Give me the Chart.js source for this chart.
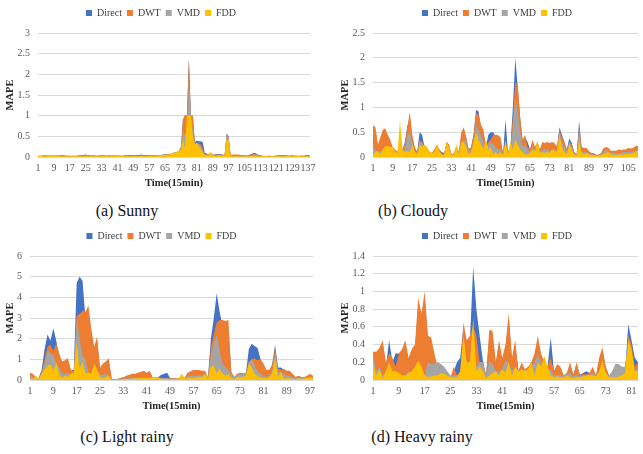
<!DOCTYPE html>
<html>
<head>
<meta charset="utf-8">
<script src="https://cdn.jsdelivr.net/npm/chart.js@4.4.0/dist/chart.umd.min.js"></script>
<style>
  html, body { margin: 0; padding: 0; background: #fff; }
  body { width: 643px; height: 454px; position: relative; overflow: hidden; font-family: "Liberation Serif", "Times New Roman", serif; }
  .panel { position: absolute; }
  .cap { position: absolute; font-size: 16px; line-height: 18px; color: #111; transform: translateX(-50%); white-space: nowrap; }
</style>
</head>
<body>
<div class="panel" style="left:0;top:0"><canvas id="chartA" width="320" height="194"></canvas></div>
<div class="panel" style="left:320px;top:0"><canvas id="chartB" width="323" height="194"></canvas></div>
<div class="panel" style="left:0;top:223px"><canvas id="chartC" width="320" height="194"></canvas></div>
<div class="panel" style="left:320px;top:223px"><canvas id="chartD" width="323" height="194"></canvas></div>
<div class="cap" style="left:127px;top:202px">(a) Sunny</div>
<div class="cap" style="left:413px;top:202px">(b) Cloudy</div>
<div class="cap" style="left:127px;top:428px">(c) Light rainy</div>
<div class="cap" style="left:422px;top:428px">(d) Heavy rainy</div>
<script>
// series names and colours (legend order)
const seriesNames = ['Direct', 'DWT', 'VMD', 'FDD'];
const seriesColors = ['#4472C4', '#ED7D31', '#A5A5A5', '#FFC000'];

// (a) Sunny, 138 points
const countA = 138;
const directA = [0.03,0.02,0.03,0.03,0.04,0.03,0.03,0.04,0.03,0.03,
  0.03,0.04,0.05,0.04,0.03,0.03,0.03,0.02,0.03,0.03,
  0.03,0.04,0.04,0.05,0.06,0.05,0.04,0.03,0.04,0.03,
  0.03,0.03,0.04,0.04,0.03,0.03,0.04,0.03,0.03,0.04,
  0.04,0.03,0.03,0.03,0.04,0.04,0.05,0.05,0.04,0.04,
  0.05,0.05,0.06,0.05,0.05,0.04,0.05,0.04,0.04,0.05,
  0.05,0.05,0.05,0.06,0.07,0.06,0.07,0.08,0.1,0.11,
  0.12,0.15,0.25,0.9,1.0,1.0,2.38,1.0,1.0,0.35,
  0.4,0.38,0.38,0.35,0.1,0.08,0.07,0.1,0.06,0.06,
  0.07,0.07,0.07,0.06,0.05,0.57,0.5,0.05,0.04,0.04,
  0.04,0.05,0.04,0.04,0.04,0.03,0.05,0.06,0.08,0.1,
  0.08,0.05,0.04,0.03,0.02,0.02,0.03,0.03,0.02,0.03,
  0.03,0.04,0.04,0.05,0.04,0.04,0.03,0.03,0.04,0.03,
  0.03,0.02,0.03,0.03,0.03,0.04,0.05,0.03];
const dwtA = [0.03,0.03,0.03,0.04,0.03,0.03,0.04,0.03,0.03,0.04,
  0.03,0.03,0.04,0.03,0.03,0.02,0.03,0.03,0.03,0.02,
  0.03,0.03,0.03,0.04,0.04,0.04,0.03,0.03,0.03,0.03,
  0.03,0.04,0.05,0.04,0.04,0.03,0.03,0.03,0.04,0.04,
  0.04,0.03,0.03,0.03,0.03,0.03,0.03,0.04,0.03,0.03,
  0.03,0.04,0.04,0.04,0.04,0.04,0.05,0.04,0.04,0.04,
  0.05,0.04,0.05,0.05,0.06,0.06,0.06,0.07,0.09,0.1,
  0.11,0.14,0.22,0.9,1.02,1.0,2.35,1.0,1.0,0.33,
  0.35,0.33,0.3,0.2,0.08,0.06,0.06,0.08,0.05,0.05,
  0.06,0.06,0.06,0.05,0.05,0.55,0.48,0.06,0.06,0.06,
  0.06,0.06,0.05,0.04,0.04,0.03,0.04,0.04,0.06,0.07,
  0.06,0.04,0.03,0.03,0.02,0.02,0.02,0.03,0.02,0.03,
  0.03,0.03,0.03,0.04,0.04,0.03,0.03,0.03,0.03,0.03,
  0.03,0.02,0.03,0.03,0.03,0.03,0.04,0.03];
const vmdA = [0.02,0.02,0.03,0.03,0.03,0.02,0.03,0.03,0.02,0.03,
  0.03,0.03,0.03,0.03,0.02,0.02,0.02,0.02,0.03,0.02,
  0.02,0.03,0.03,0.03,0.03,0.03,0.02,0.02,0.03,0.02,
  0.02,0.03,0.03,0.03,0.03,0.02,0.02,0.02,0.03,0.03,
  0.03,0.02,0.02,0.02,0.03,0.03,0.03,0.03,0.03,0.02,
  0.03,0.03,0.03,0.03,0.03,0.03,0.03,0.03,0.03,0.03,
  0.04,0.04,0.04,0.04,0.05,0.05,0.05,0.06,0.08,0.08,
  0.09,0.12,0.2,0.65,0.5,0.7,1.8,1.0,0.6,0.3,
  0.32,0.3,0.25,0.15,0.06,0.05,0.05,0.08,0.04,0.04,
  0.04,0.05,0.05,0.04,0.04,0.55,0.45,0.04,0.03,0.03,
  0.03,0.03,0.03,0.03,0.03,0.02,0.03,0.03,0.04,0.05,
  0.04,0.03,0.02,0.02,0.02,0.02,0.02,0.02,0.02,0.02,
  0.02,0.03,0.03,0.03,0.03,0.03,0.02,0.02,0.02,0.02,
  0.02,0.02,0.02,0.02,0.03,0.03,0.03,0.02];
const fddA = [0.02,0.03,0.03,0.02,0.03,0.03,0.04,0.04,0.04,0.03,
  0.03,0.03,0.02,0.02,0.02,0.02,0.02,0.02,0.02,0.02,
  0.02,0.02,0.02,0.02,0.03,0.03,0.02,0.02,0.02,0.02,
  0.02,0.02,0.03,0.03,0.03,0.02,0.02,0.02,0.03,0.04,
  0.05,0.03,0.02,0.02,0.02,0.02,0.02,0.02,0.02,0.02,
  0.02,0.02,0.02,0.02,0.02,0.02,0.03,0.03,0.03,0.03,
  0.03,0.04,0.04,0.05,0.06,0.05,0.06,0.08,0.1,0.11,
  0.12,0.15,0.18,0.45,0.2,1.0,1.0,1.0,0.5,0.3,
  0.35,0.25,0.2,0.1,0.05,0.05,0.06,0.12,0.04,0.03,
  0.03,0.04,0.04,0.03,0.04,0.45,0.4,0.03,0.02,0.02,
  0.02,0.02,0.02,0.02,0.02,0.02,0.02,0.02,0.03,0.03,
  0.03,0.02,0.02,0.02,0.02,0.02,0.02,0.02,0.02,0.02,
  0.02,0.02,0.02,0.02,0.02,0.02,0.02,0.02,0.02,0.03,
  0.05,0.03,0.02,0.02,0.02,0.02,0.02,0.02];

// (b) Cloudy, 109 points visible
const countB = 109;
const directB = [0.6,0.55,0.2,0.35,0.5,0.5,0.4,0.3,0.18,0.12,
  0.1,0.28,0.14,0.3,0.62,0.8,0.4,0.18,0.1,0.5,
  0.45,0.2,0.18,0.1,0.08,0.14,0.23,0.15,0.1,0.08,
  0.28,0.22,0.05,0.07,0.2,0.1,0.45,0.55,0.38,0.15,
  0.2,0.45,0.95,0.92,0.6,0.5,0.2,0.45,0.5,0.5,
  0.4,0.38,0.35,0.05,0.75,0.1,0.2,1.0,2.0,1.4,
  0.75,0.3,0.4,0.3,0.15,0.3,0.18,0.28,0.14,0.25,
  0.25,0.25,0.25,0.25,0.25,0.2,0.6,0.45,0.3,0.15,
  0.38,0.28,0.1,0.05,0.73,0.2,0.15,0.15,0.1,0.08,
  0.07,0.04,0.05,0.07,0.15,0.18,0.15,0.1,0.1,0.1,
  0.12,0.12,0.12,0.13,0.15,0.15,0.15,0.2,0.2];
const dwtB = [0.64,0.6,0.25,0.4,0.55,0.58,0.45,0.35,0.2,0.15,
  0.1,0.3,0.15,0.25,0.6,0.9,0.45,0.2,0.1,0.35,
  0.3,0.22,0.2,0.1,0.08,0.15,0.25,0.15,0.08,0.05,
  0.3,0.25,0.05,0.08,0.22,0.1,0.5,0.6,0.4,0.15,
  0.2,0.45,0.88,0.85,0.65,0.55,0.2,0.3,0.35,0.45,
  0.45,0.44,0.4,0.05,0.3,0.1,0.2,0.8,1.5,1.45,
  0.8,0.35,0.45,0.2,0.15,0.35,0.2,0.3,0.15,0.3,
  0.28,0.3,0.28,0.3,0.28,0.2,0.55,0.4,0.3,0.15,
  0.3,0.25,0.1,0.05,0.6,0.2,0.18,0.18,0.12,0.08,
  0.08,0.04,0.05,0.08,0.18,0.2,0.18,0.12,0.13,0.12,
  0.15,0.14,0.15,0.15,0.18,0.17,0.18,0.22,0.22];
const vmdB = [0.2,0.15,0.1,0.12,0.15,0.2,0.2,0.2,0.15,0.1,
  0.08,0.2,0.1,0.15,0.45,0.5,0.3,0.12,0.08,0.3,
  0.28,0.18,0.15,0.08,0.05,0.1,0.2,0.12,0.05,0.05,
  0.25,0.2,0.04,0.06,0.15,0.08,0.3,0.35,0.3,0.1,
  0.15,0.3,0.65,0.55,0.45,0.3,0.15,0.25,0.3,0.25,
  0.2,0.15,0.15,0.04,0.25,0.08,0.15,0.6,1.2,0.9,
  0.5,0.2,0.25,0.15,0.1,0.2,0.12,0.25,0.1,0.15,
  0.15,0.15,0.12,0.15,0.15,0.12,0.5,0.3,0.2,0.1,
  0.3,0.2,0.08,0.04,0.5,0.12,0.1,0.1,0.08,0.06,
  0.05,0.03,0.04,0.05,0.1,0.15,0.12,0.08,0.08,0.08,
  0.08,0.08,0.1,0.1,0.1,0.1,0.12,0.12,0.14];
const fddB = [0.05,0.1,0.12,0.05,0.15,0.22,0.22,0.2,0.2,0.1,
  0.08,0.73,0.15,0.1,0.12,0.1,0.25,0.1,0.05,0.25,
  0.2,0.25,0.2,0.1,0.08,0.1,0.25,0.12,0.04,0.05,
  0.3,0.2,0.03,0.05,0.25,0.05,0.3,0.3,0.2,0.05,
  0.1,0.3,0.5,0.35,0.25,0.15,0.35,0.15,0.2,0.05,
  0.1,0.05,0.1,0.03,0.35,0.05,0.3,0.15,0.35,0.25,
  0.15,0.1,0.05,0.05,0.08,0.15,0.1,0.35,0.08,0.1,
  0.08,0.1,0.08,0.15,0.12,0.1,0.45,0.2,0.1,0.05,
  0.25,0.15,0.05,0.03,0.35,0.08,0.06,0.08,0.05,0.04,
  0.03,0.02,0.03,0.04,0.06,0.08,0.1,0.05,0.04,0.04,
  0.05,0.05,0.05,0.06,0.06,0.07,0.08,0.1,0.12];

// (c) Light rainy, 98 points
const countC = 98;
const directC = [0.3,0.25,0.1,0.1,0.5,1.5,2.2,1.9,2.5,1.9,
  1.2,0.85,0.9,0.95,0.45,0.5,4.7,5.0,4.8,3.0,
  3.2,2.2,1.4,1.9,0.5,0.7,0.8,0.9,0.05,0.02,
  0.05,0.1,0.12,0.18,0.22,0.25,0.28,0.3,0.35,0.4,
  0.3,0.4,0.12,0.12,0.15,0.25,0.3,0.35,0.1,0.08,
  0.08,0.1,0.12,0.1,0.3,0.38,0.42,0.43,0.42,0.4,
  0.4,0.1,2.0,3.0,4.2,3.3,2.6,2.5,2.4,0.35,
  0.12,0.28,0.3,0.3,0.3,1.5,1.75,1.65,1.55,1.0,
  0.75,0.45,0.45,0.75,1.7,0.6,0.6,0.5,0.4,0.4,
  0.25,0.12,0.18,0.12,0.12,0.18,0.25,0.18];
const dwtC = [0.35,0.3,0.15,0.1,0.4,1.0,1.6,1.7,1.4,1.75,
  1.3,0.9,0.95,1.05,0.5,0.4,3.1,3.2,3.35,3.3,
  3.6,2.5,1.6,2.1,0.6,0.8,0.9,1.05,0.05,0.02,
  0.03,0.1,0.12,0.2,0.25,0.3,0.3,0.35,0.4,0.45,
  0.35,0.45,0.15,0.15,0.15,0.1,0.1,0.1,0.08,0.08,
  0.08,0.1,0.15,0.1,0.35,0.42,0.48,0.48,0.48,0.45,
  0.45,0.1,1.6,2.2,2.8,2.9,2.9,2.85,2.9,0.4,
  0.15,0.3,0.35,0.33,0.35,0.9,1.0,1.05,0.95,1.0,
  0.8,0.5,0.5,0.7,1.5,0.55,0.5,0.55,0.45,0.45,
  0.3,0.15,0.2,0.15,0.15,0.2,0.3,0.2];
const vmdC = [0.2,0.15,0.05,0.08,0.3,0.8,1.4,1.3,1.2,0.8,
  0.6,0.3,0.3,0.35,0.2,0.3,3.0,2.0,1.2,1.0,
  0.3,0.3,0.35,0.5,0.25,0.25,0.3,0.2,0.03,0.02,
  0.03,0.05,0.05,0.08,0.08,0.1,0.1,0.1,0.12,0.12,
  0.1,0.12,0.1,0.1,0.1,0.08,0.08,0.08,0.06,0.06,
  0.06,0.08,0.1,0.08,0.2,0.2,0.22,0.2,0.22,0.2,
  0.25,0.08,1.2,1.8,2.2,1.4,0.8,0.6,0.5,0.3,
  0.1,0.25,0.3,0.28,0.3,0.8,1.0,0.7,0.4,0.3,
  0.2,0.15,0.2,0.4,1.3,0.4,0.4,0.3,0.2,0.2,
  0.15,0.1,0.1,0.1,0.1,0.12,0.15,0.1];
const fddC = [0.1,0.05,0.2,0.05,0.3,0.5,0.7,0.75,0.45,0.85,
  0.3,0.1,0.2,0.15,0.3,0.35,1.8,0.5,0.9,0.3,
  0.35,0.3,0.8,0.5,0.15,0.1,0.15,0.2,0.02,0.01,
  0.02,0.03,0.05,0.05,0.06,0.06,0.08,0.08,0.08,0.1,
  0.08,0.1,0.15,0.15,0.12,0.05,0.05,0.05,0.04,0.05,
  0.05,0.08,0.3,0.08,0.1,0.12,0.1,0.12,0.15,0.15,
  0.3,0.05,0.65,0.7,0.3,0.55,0.3,0.2,0.3,0.1,
  0.05,0.15,0.15,0.15,0.2,0.8,0.6,0.3,0.2,0.1,
  0.1,0.08,0.15,0.3,1.1,0.15,0.4,0.05,0.1,0.1,
  0.05,0.05,0.08,0.05,0.08,0.1,0.12,0.08];

// (d) Heavy rainy, 83 points visible
const countD = 83;
const directD = [0.3,0.3,0.33,0.4,0.15,0.45,0.2,0.3,0.3,0.3,
  0.4,0.22,0.3,0.35,0.85,0.7,0.9,0.45,0.4,0.25,
  0.12,0.08,0.07,0.05,0.03,0.1,0.2,0.25,0.6,0.4,
  0.45,1.28,0.8,0.5,0.22,0.05,0.5,0.5,0.18,0.4,
  0.22,0.35,0.7,0.22,0.4,0.1,0.18,0.12,0.14,0.18,
  0.28,0.45,0.28,0.2,0.15,0.48,0.1,0.15,0.13,0.05,
  0.08,0.18,0.06,0.18,0.06,0.08,0.1,0.08,0.13,0.05,
  0.22,0.33,0.15,0.05,0.05,0.05,0.05,0.05,0.1,0.63,
  0.45,0.25,0.2];
const dwtD = [0.32,0.32,0.36,0.45,0.2,0.3,0.25,0.15,0.3,0.35,
  0.45,0.25,0.35,0.4,0.93,0.75,1.0,0.5,0.48,0.3,
  0.15,0.1,0.08,0.05,0.03,0.15,0.05,0.1,0.65,0.45,
  0.5,0.6,0.5,0.2,0.2,0.05,0.57,0.55,0.2,0.45,
  0.25,0.4,0.75,0.25,0.45,0.1,0.2,0.12,0.15,0.2,
  0.3,0.5,0.3,0.2,0.15,0.25,0.1,0.18,0.15,0.05,
  0.08,0.2,0.05,0.2,0.05,0.07,0.06,0.08,0.15,0.05,
  0.25,0.37,0.15,0.05,0.05,0.05,0.05,0.05,0.08,0.5,
  0.4,0.15,0.2];
const vmdD = [0.3,0.1,0.15,0.05,0.1,0.15,0.1,0.1,0.05,0.05,
  0.05,0.1,0.08,0.1,0.15,0.1,0.05,0.2,0.18,0.18,
  0.2,0.18,0.15,0.1,0.05,0.05,0.05,0.05,0.2,0.2,
  0.2,0.6,0.15,0.2,0.2,0.05,0.22,0.18,0.1,0.1,
  0.12,0.22,0.2,0.1,0.15,0.1,0.1,0.12,0.1,0.15,
  0.2,0.3,0.2,0.15,0.1,0.12,0.05,0.06,0.05,0.05,
  0.07,0.08,0.04,0.06,0.04,0.05,0.06,0.05,0.08,0.05,
  0.1,0.15,0.08,0.05,0.1,0.18,0.18,0.15,0.15,0.45,
  0.3,0.1,0.15];
const fddD = [0.2,0.05,0.12,0.02,0.1,0.2,0.1,0.1,0.08,0.05,
  0.05,0.08,0.1,0.15,0.22,0.15,0.05,0.03,0.04,0.05,
  0.05,0.08,0.07,0.05,0.03,0.03,0.03,0.1,0.5,0.2,
  0.2,0.7,0.1,0.15,0.1,0.02,0.05,0.08,0.1,0.05,
  0.12,0.08,0.2,0.05,0.15,0.1,0.12,0.1,0.12,0.2,
  0.05,0.2,0.15,0.27,0.15,0.05,0.03,0.04,0.03,0.03,
  0.05,0.03,0.02,0.03,0.03,0.04,0.05,0.06,0.05,0.04,
  0.1,0.22,0.08,0.03,0.03,0.03,0.04,0.05,0.08,0.45,
  0.35,0.1,0.1];

const serif = '"Liberation Serif", "Times New Roman", "DejaVu Serif", serif';
const tickFont = { family: serif, size: 10 };
const titleFont = { family: serif, size: 10.5, weight: 'bold' };

// moves the legend after layout (right-hand panels are cut off at the page edge)
const legendShift = {
  id: 'legendShift',
  afterLayout(chart, args, opts) {
    const lg = chart.legend;
    if (!lg || !opts) return;
    lg.left += opts.dx || 0;
    lg.right += opts.dx || 0;
    lg.top += opts.dy || 0;
    lg.bottom += opts.dy || 0;
  }
};

function makeChart(id, count, series, yMax, yStep, yAxisWidth, pad, legendDx) {
  const labels = Array.from({ length: count }, (_, i) => String(i + 1));
  // draw order: Direct at the back, FDD in front
  const datasets = series.map((data, i) => ({
    label: seriesNames[i],
    data: data,
    backgroundColor: seriesColors[i],
    borderColor: seriesColors[i],
    borderWidth: 0,
    pointRadius: 0,
    fill: 'origin',
    tension: 0
  })).reverse();

  return new Chart(document.getElementById(id), {
    type: 'line',
    data: { labels, datasets },
    plugins: [legendShift],
    options: {
      responsive: false,
      animation: false,
      devicePixelRatio: 1,
      layout: { padding: pad },
      plugins: {
        legend: {
          reverse: true,
          labels: { boxWidth: 6, boxHeight: 6, padding: 5, color: '#404040', font: tickFont }
        },
        legendShift: { dx: legendDx, dy: -5 },
        tooltip: { enabled: false }
      },
      scales: {
        x: {
          grid: { display: false, drawTicks: false },
          border: { display: true, color: '#d9d9d9' },
          ticks: {
            autoSkip: false, maxRotation: 0, minRotation: 0, padding: 5,
            color: '#595959', font: tickFont,
            callback(v, i) { return i % 8 === 0 ? this.getLabelForValue(v) : ''; }
          },
          title: { display: true, text: 'Time(15min)', color: '#262626', font: titleFont, padding: { top: 2, bottom: 0 } },
          afterFit(scale) { scale.height = 33; }
        },
        y: {
          min: 0, max: yMax,
          grid: { color: '#d9d9d9', lineWidth: 1, drawTicks: false },
          border: { display: false },
          ticks: {
            stepSize: yStep, padding: 8, color: '#595959', font: tickFont,
            callback: v => String(Math.round(v * 10) / 10)
          },
          title: { display: true, text: 'MAPE', color: '#262626', font: titleFont, padding: { top: 0, bottom: 0 } },
          afterFit(scale) { scale.width = yAxisWidth; }
        }
      }
    }
  });
}

function drawAll() {
  makeChart('chartA', countA, [directA, dwtA, vmdA, fddA], 3, 0.5, 34,
    { top: 8, left: 4, right: 10, bottom: 4 }, 4);
  makeChart('chartB', countB, [directB, dwtB, vmdB, fddB], 2.5, 0.5, 34,
    { top: 8, left: 19, right: 0, bottom: 4 }, 6);
  makeChart('chartC', countC, [directC, dwtC, vmdC, fddC], 6, 1, 26,
    { top: 8, left: 4, right: 7, bottom: 4 }, 3);
  makeChart('chartD', countD, [directD, dwtD, vmdD, fddD], 1.4, 0.2, 34,
    { top: 8, left: 19, right: 0, bottom: 4 }, 6);
}

if (document.fonts && document.fonts.load) {
  Promise.all([
    document.fonts.load('10px "Liberation Serif"'),
    document.fonts.load('bold 11px "Liberation Serif"')
  ]).then(drawAll, drawAll);
} else {
  drawAll();
}
</script>
</body>
</html>
